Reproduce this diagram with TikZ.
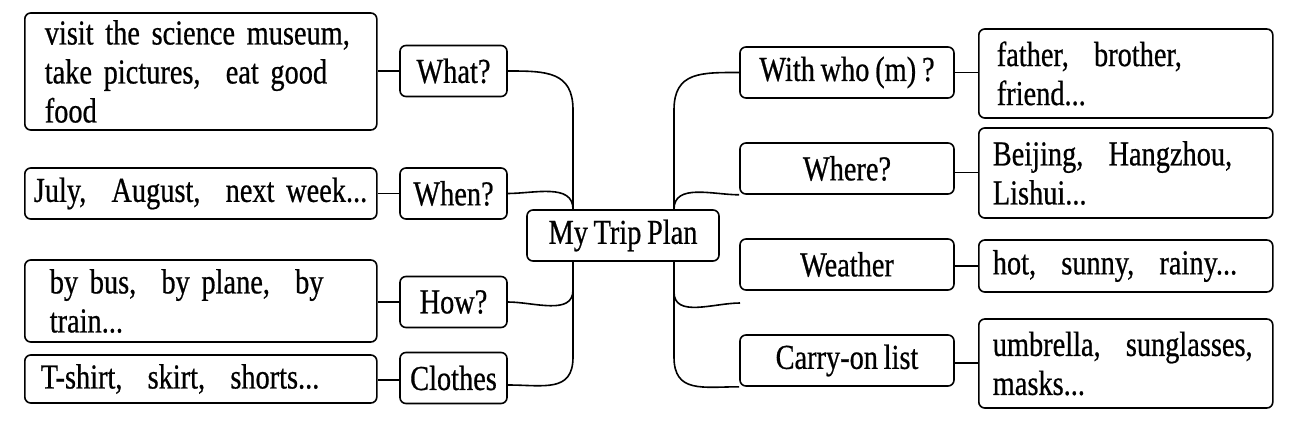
\documentclass[tikz,border=0pt]{standalone}
\usepackage{fontspec}
\setmainfont{Liberation Serif}[FakeStretch=0.81,FakeBold=0.6,WordSpace=0.8]
\newcommand{\fc}{,\hspace{0.72em}}
\begin{document}
\begin{tikzpicture}[x=1pt,y=-1pt,
  every node/.style={font=\fontsize{35}{39}\selectfont},
  bx/.style={draw, line width=1.6pt, rounded corners=6pt, inner sep=0pt},
  cat/.style={bx, minimum width=107pt, minimum height=51pt},
  rcat/.style={bx, minimum width=214pt, minimum height=51pt},
  lnk/.style={line width=1.6pt},
]
\useasboundingbox (0,0) rectangle (1312,428);
% central node
\node[bx, minimum width=192pt, minimum height=51pt] (main) at (623,235.5) {My Trip Plan};
% left categories
\node[cat] (what) at (453.5,71) {What?};
\node[cat] (when) at (453.5,193.5) {When?};
\node[cat] (how) at (453.5,302) {How?};
\node[cat] (clothes) at (453.5,378) {Clothes};
% right categories
\node[rcat] (with) at (847,72.5) {With who\,(m)\,?};
\node[rcat] (where) at (847,168.5) {Where?};
\node[rcat] (weather) at (847,264.5) {Weather\hspace{12pt}};
\node[rcat] (carry) at (847,360.5) {Carry-on list};
% left details
\node[bx, anchor=west, inner xsep=20pt, text width=312pt, align=left, minimum height=117pt] (d1) at (24,71.5)
  {visit the science museum\fc\\take pictures\fc eat good\\food};
\node[bx, anchor=west, inner xsep=9pt, text width=334pt, align=left, minimum height=51pt] (d2) at (24,193.5)
  {July\fc August\fc next week...};
\node[bx, anchor=west, inner xsep=25pt, text width=302pt, align=left, minimum height=82pt] (d3) at (24,301)
  {by bus\fc by plane\fc by\\train...};
\node[bx, anchor=west, inner xsep=16pt, text width=320pt, align=left, minimum height=48pt] (d4) at (24,379)
  {T-shirt\fc skirt\fc shorts...};
% right details
\node[bx, anchor=west, inner xsep=18pt, text width=258pt, align=left, minimum height=89pt] (r1) at (978,73.5)
  {father\fc brother\fc\\friend...};
\node[bx, anchor=west, inner xsep=14pt, text width=266pt, align=left, minimum height=90pt] (r2) at (978,173)
  {Beijing\fc Hangzhou\fc\\Lishui...};
\node[bx, anchor=west, inner xsep=14pt, text width=266pt, align=left, minimum height=52pt] (r3) at (978,266)
  {hot\fc sunny\fc rainy...};
\node[bx, anchor=west, inner xsep=14pt, text width=266pt, align=left, minimum height=89pt] (r4) at (978,363.5)
  {umbrella\fc sunglasses\fc\\masks...};
% short links
\draw[lnk] (what.west) -- (what.west -| d1.east);
\draw[lnk] (when.west) -- (when.west -| d2.east);
\draw[lnk] (how.west) -- (how.west -| d3.east);
\draw[lnk] ([yshift=-2pt]clothes.west) -- ([yshift=-2pt]clothes.west -| d4.east);
\draw[lnk] (with.east) -- (with.east -| r1.west);
\draw[lnk] ([yshift=-4pt]where.east) -- ([yshift=-4pt]where.east -| r2.west);
\draw[lnk] ([yshift=-1.5pt]weather.east) -- ([yshift=-1.5pt]weather.east -| r3.west);
\draw[lnk] ([yshift=-2.5pt]carry.east) -- ([yshift=-2.5pt]carry.east -| r4.west);
% junction coordinates
\coordinate (lt) at (573,110);
\coordinate (lb) at (573,357);
\coordinate (lh) at (573,290);
\coordinate (rt) at (674,110);
\coordinate (rb) at (674,357);
\coordinate (rh) at (674,292);
\coordinate (free) at (740,303);
% left trunk
\draw[lnk] (what.east) to[out=0,in=90,looseness=1.3] (lt) -- (lt |- main.north);
\draw[lnk] (when.east) to[out=0,in=90] (lt |- main.north);
\draw[lnk] (lt |- main.south) -- (lb) to[out=-90,in=0,looseness=1.3] ([yshift=-7pt]clothes.east);
\draw[lnk] (lh) to[out=-90,in=0] (how.east);
% right trunk
\draw[lnk] (with.west) to[out=180,in=90,looseness=1.3] (rt) -- (rt |- main.north);
\draw[lnk] (where.south west) to[out=180,in=90] (rt |- main.north);
\draw[lnk] (rt |- main.south) -- (rb) to[out=-90,in=180,looseness=1.3] (carry.south west);
\draw[lnk] (rh) to[out=-90,in=180] (free);
\end{tikzpicture}
\end{document}
